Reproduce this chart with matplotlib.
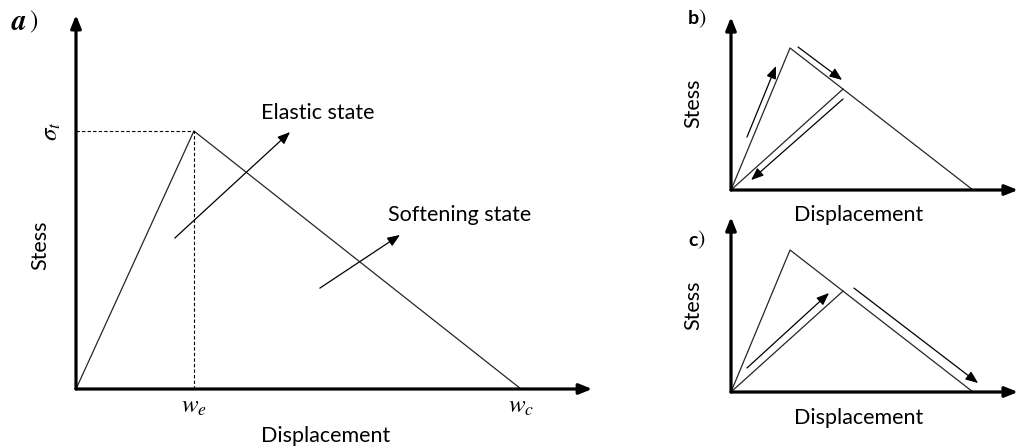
import matplotlib
matplotlib.use('Agg')
import matplotlib.pyplot as plt

W, H = 1018, 448
plt.rcParams['mathtext.fontset'] = 'stix'
plt.rcParams['font.family'] = ['Lato', 'DejaVu Sans']

# ---------------- data ----------------
# Panel a: normalised displacement (w_c = 1) and stress (sigma_t = 1)
a_disp = [0.0, 0.265, 1.0]
a_stress = [0.0, 1.0, 0.0]
a_we = 0.265
a_wc = 1.0
a_sig = 1.0
a_lim = (1.16, 1.45)
a_elastic_arrow = [(0.222, 0.585), (0.481, 0.996)]
a_soft_arrow = [(0.548, 0.391), (0.728, 0.597)]
a_labels = ["Elastic state", "Softening state"]
a_label_pos = [(0.416, 1.07), (0.701, 0.674)]

# Panels b and c: same softening curve, unload/reload point
bc_disp = [0.0, 0.244, 1.0]
bc_stress = [0.0, 1.0, 0.0]
unload_disp = [0.463, 0.0]
unload_stress = [0.711, 0.0]
b_lim = (1.186, 1.218)
c_lim = (1.186, 1.232)
b_arrows = [[(0.066, 0.373), (0.186, 0.873)],
            [(0.277, 1.007), (0.459, 0.775)],
            [(0.463, 0.641), (0.083, 0.070)]]
c_arrows = [[(0.066, 0.169), (0.405, 0.697)],
            [(0.508, 0.732), (1.021, 0.063)]]

xlabel = "Displacement"
ylabel = "Stess"

LC = '#262626'
fig = plt.figure(figsize=(W / 100, H / 100), dpi=100)


def make_ax(ox, oy, sx, sy, lim):
    ax = fig.add_axes([ox / W, (H - oy) / H, lim[0] * sx / W, lim[1] * sy / H])
    ax.set_xlim(0, lim[0])
    ax.set_ylim(0, lim[1])
    ax.axis('off')
    return ax


def axis_arrows(ax, lim):
    kw = dict(arrowstyle='-|>,head_length=0.55,head_width=0.22', lw=2.3,
              color='black', mutation_scale=14, shrinkA=0, shrinkB=0)
    ax.annotate('', xy=(lim[0], 0), xytext=(0, 0), arrowprops=kw, annotation_clip=False)
    ax.annotate('', xy=(0, lim[1]), xytext=(0, 0), arrowprops=kw, annotation_clip=False)


def thin_arrow(ax, p0, p1):
    ax.annotate('', xy=p1, xytext=p0, annotation_clip=False,
                arrowprops=dict(arrowstyle='-|>,head_length=0.75,head_width=0.3',
                                lw=0.9, color='black', mutation_scale=10,
                                shrinkA=0, shrinkB=0))


FS = 15.5

# ---------------- panel a ----------------
ax = make_ax(76, 389, 445, 258, a_lim)
ax.plot(a_disp, a_stress, color=LC, lw=0.9, clip_on=False)
ax.plot([0, a_we], [a_sig, a_sig], color='black', lw=0.8, ls=(0, (3, 2)))
ax.plot([a_we, a_we], [0, a_sig], color='black', lw=0.8, ls=(0, (3, 2)))
axis_arrows(ax, a_lim)
thin_arrow(ax, *a_elastic_arrow)
thin_arrow(ax, *a_soft_arrow)
for lab, (x, y) in zip(a_labels, a_label_pos):
    ax.text(x, y, lab, fontsize=FS, ha='left', va='center')
ax.text(-0.056, a_sig, r'$\sigma_t$', fontsize=18, rotation=90, ha='center', va='center')
ax.text(-0.081, 0.558, ylabel, fontsize=FS, rotation=90, ha='center', va='center')
ax.text(a_we, -0.066, r'$w_e$', fontsize=18, ha='center', va='center')
ax.text(a_wc, -0.066, r'$w_c$', fontsize=18, ha='center', va='center')
ax.text(0.562, -0.182, xlabel, fontsize=FS, ha='center', va='center')

# ---------------- panel b ----------------
bx = make_ax(731, 190, 242, 142, b_lim)
bx.plot(bc_disp, bc_stress, color=LC, lw=0.9, clip_on=False)
bx.plot(unload_disp, unload_stress, color=LC, lw=0.9, clip_on=False)
axis_arrows(bx, b_lim)
for p0, p1 in b_arrows:
    thin_arrow(bx, p0, p1)
bx.text(-0.157, 0.613, ylabel, fontsize=FS, rotation=90, ha='center', va='center')
bx.text(0.529, -0.176, xlabel, fontsize=FS, ha='center', va='center')

# ---------------- panel c ----------------
cx = make_ax(731, 392, 242, 142, c_lim)
cx.plot(bc_disp, bc_stress, color=LC, lw=0.9, clip_on=False)
cx.plot(unload_disp, unload_stress, color=LC, lw=0.9, clip_on=False)
axis_arrows(cx, c_lim)
for p0, p1 in c_arrows:
    thin_arrow(cx, p0, p1)
cx.text(-0.157, 0.613, ylabel, fontsize=FS, rotation=90, ha='center', va='center')
cx.text(0.529, -0.183, xlabel, fontsize=FS, ha='center', va='center')

# ---------------- panel letters ----------------
fig.text(12 / W, 1 - 22 / H, 'a', family='STIXGeneral', style='italic', weight='bold',
         fontsize=21, ha='left', va='center')
fig.text(29 / W, 1 - 22 / H, ')', family='STIXGeneral', fontsize=18, ha='left', va='center')
fig.text(688 / W, 1 - 19 / H, 'b', weight='bold', fontsize=14, ha='left', va='center')
fig.text(698 / W, 1 - 19 / H, ')', family='STIXGeneral', fontsize=16, ha='left', va='center')
fig.text(688 / W, 1 - 240 / H, 'c', weight='bold', fontsize=14, ha='left', va='center')
fig.text(697 / W, 1 - 240 / H, ')', family='STIXGeneral', fontsize=16, ha='left', va='center')

fig.savefig('out.png', dpi=100, facecolor='white')
